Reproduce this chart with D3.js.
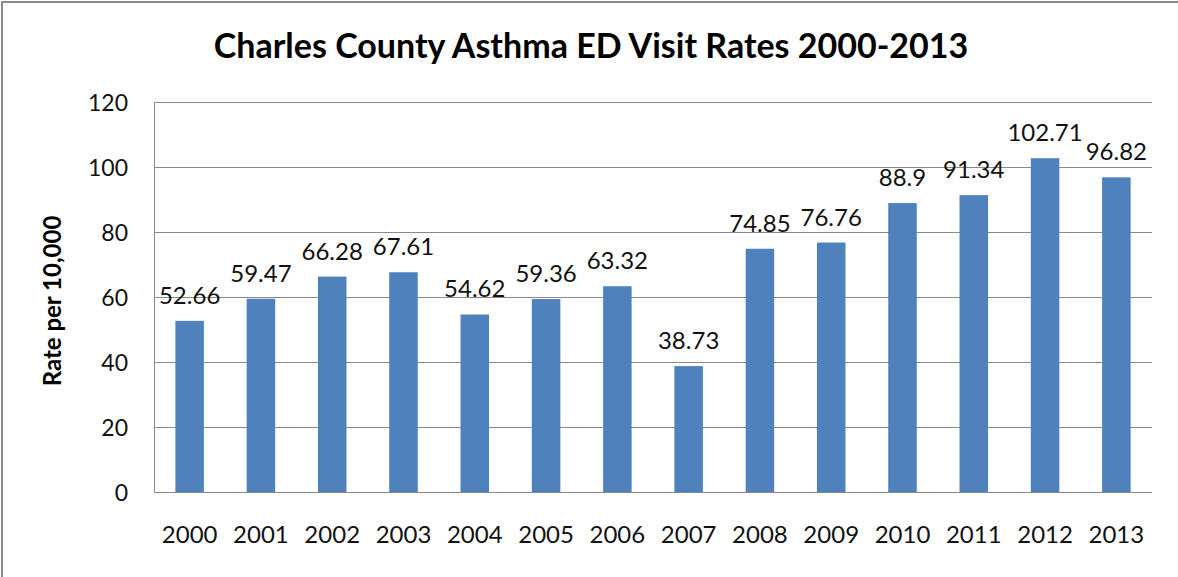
<!DOCTYPE html>
<html>
<head>
<meta charset="utf-8">
<script src="https://cdn.jsdelivr.net/npm/d3@7"></script>
<style>
  html, body { margin: 0; padding: 0; background: #fff; }
  svg { display: block; font-family: Lato, "Open Sans", sans-serif; }
</style>
</head>
<body>
<svg id="chart" width="1178" height="577"></svg>
<script>
const years = ["2000","2001","2002","2003","2004","2005","2006","2007","2008","2009","2010","2011","2012","2013"];
const rates = [52.66, 59.47, 66.28, 67.61, 54.62, 59.36, 63.32, 38.73, 74.85, 76.76, 88.9, 91.34, 102.71, 96.82];
const rateLabels = ["52.66","59.47","66.28","67.61","54.62","59.36","63.32","38.73","74.85","76.76","88.9","91.34","102.71","96.82"];
const yTicks = [0, 20, 40, 60, 80, 100, 120];
const title = "Charles County Asthma ED Visit Rates 2000-2013";
const yTitle = "Rate per 10,000";

const svg = d3.select("#chart");
const m = { left: 154, right: 1152, top: 102, bottom: 492 };

// outer frame
svg.append("rect").attr("x", 2).attr("y", 2).attr("width", 1200).attr("height", 600)
  .attr("fill", "#fff").attr("stroke", "#8c8c8c").attr("stroke-width", 2);

const x = d3.scaleBand().domain(years).range([m.left, m.right]).paddingInner(0.6).paddingOuter(0.3);
const y = d3.scaleLinear().domain([0, 120]).range([m.bottom, m.top]);

// gridlines
svg.append("g").selectAll("line").data(yTicks).join("line")
  .attr("x1", m.left).attr("x2", m.right)
  .attr("y1", d => Math.round(y(d)) + 0.5).attr("y2", d => Math.round(y(d)) + 0.5)
  .attr("stroke", "#8a8a8a").attr("stroke-width", 1);

// y axis line
svg.append("line").attr("x1", m.left + 0.5).attr("x2", m.left + 0.5)
  .attr("y1", m.top).attr("y2", m.bottom + 0.5).attr("stroke", "#8a8a8a");

// y tick labels
const yAxis = d3.axisLeft(y).tickValues(yTicks).tickSize(0).tickPadding(26);
const gy = svg.append("g").attr("transform", `translate(${m.left},0)`).call(yAxis);
gy.select(".domain").remove();
gy.selectAll("text").attr("font-size", 23).attr("fill", "#111").attr("font-family", "Lato").attr("dy", "0.36em");

// x tick labels
const xAxis = d3.axisBottom(x).tickSize(0).tickPadding(34);
const gx = svg.append("g").attr("transform", `translate(0,${m.bottom})`).call(xAxis);
gx.select(".domain").remove();
gx.selectAll("text").attr("font-size", 24).attr("fill", "#111").attr("font-family", "Lato");

// bars
svg.append("g").selectAll("rect").data(rates).join("rect")
  .attr("x", (d, i) => x(years[i]))
  .attr("width", x.bandwidth())
  .attr("y", d => y(d))
  .attr("height", d => y(0) - y(d))
  .attr("fill", "#4f81bd");

// data labels
svg.append("g").selectAll("text").data(rates).join("text")
  .attr("x", (d, i) => x(years[i]) + x.bandwidth() / 2)
  .attr("y", d => y(d) - 17)
  .attr("text-anchor", "middle")
  .attr("font-size", 24)
  .attr("fill", "#111")
  .text((d, i) => rateLabels[i]);

// title
svg.append("text").attr("x", 591).attr("y", 58).attr("text-anchor", "middle")
  .attr("font-size", 34).attr("font-weight", "bold").attr("fill", "#000")
  .text(title);

// y axis title
svg.append("text").attr("transform", `translate(61,${(m.top + m.bottom) / 2 + 4}) rotate(-90)`)
  .attr("text-anchor", "middle").attr("font-size", 24).attr("font-weight", "bold").attr("fill", "#000")
  .text(yTitle);
</script>
</body>
</html>
